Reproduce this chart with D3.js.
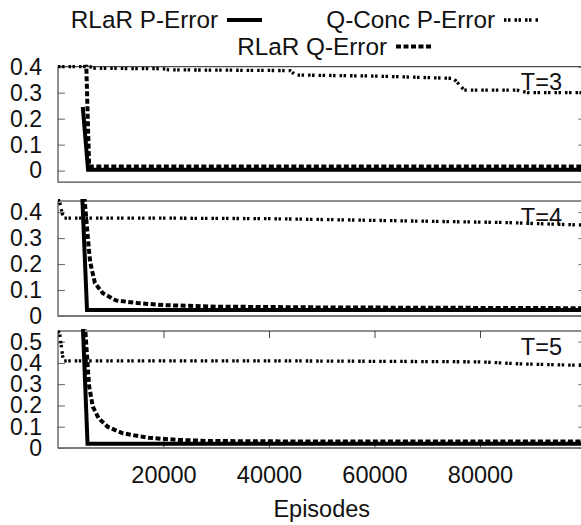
<!DOCTYPE html>
<html>
<head>
<meta charset="utf-8">
<script src="https://cdn.jsdelivr.net/npm/d3@7"></script>
<style>
body { margin: 0; background: #fff; }
text { font-family: "Liberation Sans", Arial, sans-serif; fill: #111; }
</style>
</head>
<body>
<div id="chart"></div>
<script>
// [episode, error] pairs
var rlarP3 = [[4700, 0.245], [5700, 0.003], [100000, 0.003]];
var rlarQ3 = [[5300, 0.45], [5900, 0.016], [100000, 0.016]];
var qconcP3 = [[0, 0.40], [6000, 0.40], [7000, 0.394], [20000, 0.392], [21000, 0.388],
               [44000, 0.385], [45000, 0.368], [60000, 0.364], [75000, 0.355],
               [77000, 0.31], [87000, 0.31], [89000, 0.30], [100000, 0.30]];

var rlarP4 = [[4600, 0.46], [5500, 0.023], [100000, 0.023]];
var rlarQ4 = [[5000, 0.46], [5500, 0.34], [5800, 0.27], [6100, 0.207], [7000, 0.127],
              [8500, 0.088], [11000, 0.06], [15000, 0.05], [20000, 0.042],
              [30000, 0.036], [50000, 0.033], [100000, 0.03]];
var qconcP4 = [[0, 0.45], [300, 0.44], [1000, 0.377], [20000, 0.377], [40000, 0.375],
               [55000, 0.37], [70000, 0.365], [85000, 0.36], [92000, 0.355], [100000, 0.35]];

var rlarP5 = [[4700, 0.58], [5600, 0.02], [100000, 0.02]];
var rlarQ5 = [[5100, 0.58], [5900, 0.29], [6600, 0.194], [7700, 0.14], [9400, 0.10],
              [12300, 0.069], [17200, 0.048], [22800, 0.038], [28500, 0.033],
              [50000, 0.03], [100000, 0.03]];
var qconcP5 = [[0, 0.55], [300, 0.54], [1000, 0.41], [40000, 0.41], [80000, 0.405],
               [88000, 0.395], [100000, 0.388]];

var xTicks = [20000, 40000, 60000, 80000];
var yTicks3 = [0, 0.1, 0.2, 0.3, 0.4];
var yTicks4 = [0, 0.1, 0.2, 0.3, 0.4];
var yTicks5 = [0, 0.1, 0.2, 0.3, 0.4, 0.5];
var panelLabels = ["T=3", "T=4", "T=5"];
var seriesNames = ["RLaR P-Error", "Q-Conc P-Error", "RLaR Q-Error"];

function init() {

    var w = 581;
    var h = 525;

    var left = 58;
    var right = 585.5;

    var solid = null;
    var dashed = "5,2.5";
    var dotted = "2.5,1.5,2.5,4";

    var svg = d3.select("#chart")
                .append("svg")
                .attr("width", w)
                .attr("height", h);

    var xScale = d3.scaleLinear()
                   .domain([0, 100000])
                   .range([left, right]);

    var panels = [
        { top: 66.7, bottom: 182.3, domain: [-0.045, 0.4], ticks: yTicks3,
          p: rlarP3, q: rlarQ3, c: qconcP3, xAxis: false },
        { top: 201, bottom: 316, domain: [0, 0.443], ticks: yTicks4,
          p: rlarP4, q: rlarQ4, c: qconcP4, xAxis: false },
        { top: 331, bottom: 448, domain: [0, 0.55], ticks: yTicks5,
          p: rlarP5, q: rlarQ5, c: qconcP5, xAxis: true }
    ];

    panels.forEach(function(pn, i) {

        var yScale = d3.scaleLinear()
                       .domain(pn.domain)
                       .range([pn.bottom, pn.top]);

        var g = svg.append("g");

        g.append("clipPath")
         .attr("id", "clip" + i)
         .append("rect")
         .attr("x", left)
         .attr("y", pn.top - 2)
         .attr("width", right - left)
         .attr("height", pn.bottom - pn.top + 2);

        // y ticks, inward on both sides
        var yAxis = d3.axisLeft(yScale)
                      .tickValues(pn.ticks)
                      .tickFormat(d3.format(".1~f"))
                      .tickSizeInner(-7)
                      .tickSizeOuter(0)
                      .tickPadding(16);

        var ya = g.append("g")
                  .attr("transform", "translate(" + left + ",0)")
                  .call(yAxis);
        ya.select(".domain").remove();
        ya.selectAll("line").attr("stroke", "#666");
        ya.selectAll("text")
          .style("font-size", "23px")
          .attr("fill", "#111");

        var yr = g.append("g")
                  .attr("transform", "translate(" + right + ",0)")
                  .call(d3.axisRight(yScale)
                          .tickValues(pn.ticks)
                          .tickSizeInner(-7)
                          .tickSizeOuter(0)
                          .tickFormat(""));
        yr.select(".domain").remove();
        yr.selectAll("line").attr("stroke", "#666");

        if (pn.xAxis) {
            var xb = g.append("g")
                      .attr("transform", "translate(0," + pn.bottom + ")")
                      .call(d3.axisBottom(xScale)
                              .tickValues(xTicks)
                              .tickFormat(d3.format("d"))
                              .tickSizeInner(-7)
                              .tickSizeOuter(0));
            xb.select(".domain").remove();
            xb.selectAll("line").attr("stroke", "#444");
            xb.selectAll("text")
              .attr("y", 35)
              .attr("dy", null)
              .style("font-size", "23.5px")
              .attr("fill", "#111");

            var xt = g.append("g")
                      .attr("transform", "translate(0," + pn.top + ")")
                      .call(d3.axisTop(xScale)
                              .tickValues(xTicks)
                              .tickSizeInner(-7)
                              .tickSizeOuter(0)
                              .tickFormat(""));
            xt.select(".domain").remove();
            xt.selectAll("line").attr("stroke", "#444");
        }

        // frame
        g.append("rect")
         .attr("x", left)
         .attr("y", pn.top)
         .attr("width", right - left)
         .attr("height", pn.bottom - pn.top)
         .attr("fill", "none")
         .attr("stroke", "#222")
         .attr("stroke-width", 1);

        g.append("line")
         .attr("x1", left)
         .attr("x2", right)
         .attr("y1", pn.bottom)
         .attr("y2", pn.bottom)
         .attr("stroke", "#777")
         .attr("stroke-width", 1.6);

        var line = d3.line()
                     .x(function(d) { return xScale(d[0]); })
                     .y(function(d) { return yScale(d[1]); });

        var lines = g.append("g")
                     .attr("clip-path", "url(#clip" + i + ")");

        lines.append("path")
             .datum(pn.c)
             .attr("d", line)
             .attr("fill", "none")
             .attr("stroke", "#000")
             .attr("stroke-width", 3.3)
             .attr("stroke-dasharray", dotted);

        lines.append("path")
             .datum(pn.p)
             .attr("d", line)
             .attr("fill", "none")
             .attr("stroke", "#000")
             .attr("stroke-width", 4);

        lines.append("path")
             .datum(pn.q)
             .attr("d", line)
             .attr("fill", "none")
             .attr("stroke", "#000")
             .attr("stroke-width", 4)
             .attr("stroke-dasharray", dashed);

        g.append("text")
         .attr("x", 562)
         .attr("y", pn.top + 23.5)
         .attr("text-anchor", "end")
         .style("font-size", "23.5px")
         .text(panelLabels[i]);
    });

    svg.append("text")
       .attr("x", (left + right) / 2)
       .attr("y", 517)
       .attr("text-anchor", "middle")
       .style("font-size", "23.5px")
       .text("Episodes");

    // key
    var key = [
        { x: 218, y: 28, dash: solid },
        { x: 495, y: 28, dash: dotted },
        { x: 387, y: 54.5, dash: dashed }
    ];

    var keys = svg.selectAll(".key")
                  .data(key)
                  .enter()
                  .append("g")
                  .attr("class", "key");

    keys.append("text")
        .attr("x", function(d) { return d.x; })
        .attr("y", function(d) { return d.y; })
        .attr("text-anchor", "end")
        .style("font-size", "24.3px")
        .text(function(d, i) { return seriesNames[i]; });

    keys.append("line")
        .attr("x1", function(d) { return d.x + 9; })
        .attr("x2", function(d) { return d.x + 44; })
        .attr("y1", function(d) { return d.y - 8; })
        .attr("y2", function(d) { return d.y - 8; })
        .attr("stroke", "#000")
        .attr("stroke-width", function(d) { return d.dash === dotted ? 3.3 : 4; })
        .attr("stroke-dasharray", function(d) { return d.dash; });
}

window.onload = init;
</script>
</body>
</html>
